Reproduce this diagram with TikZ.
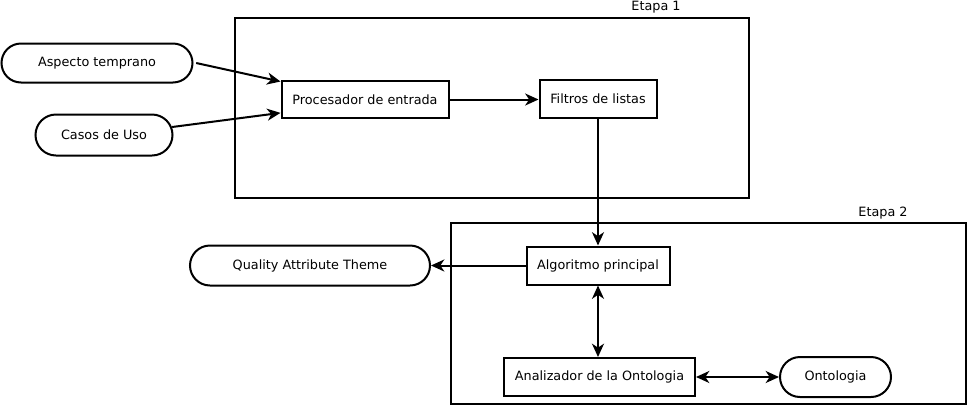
\documentclass[tikz,border=0pt]{standalone}
\usepackage{fontspec}
\setmainfont{DejaVu Sans}
\usetikzlibrary{shapes.misc,arrows.meta}
\tikzset{
  caja/.style={draw, line width=1.5pt, inner sep=0pt, font=\fontsize{9.6}{11}\selectfont},
  terminal/.style={caja, rounded rectangle},
  etapa/.style={draw, line width=1.5pt, inner sep=0pt},
  rotulo/.style={font=\fontsize{9.6}{11}\selectfont},
  flecha/.style={line width=1.5pt, -{Stealth[length=10pt, width=9pt, inset=3pt]}},
  dobleflecha/.style={line width=1.5pt, {Stealth[length=10pt, width=9pt, inset=3pt]}-{Stealth[length=10pt, width=9pt, inset=3pt]}}
}
\begin{document}
\begin{tikzpicture}[x=.75pt, y=-.75pt]
\useasboundingbox (0,0) rectangle (968,408);
\node[etapa, minimum width=385.5pt, minimum height=135pt] (caja1) at (492,108) {};
\node[rotulo] (etapa1) at (656,7) {Etapa 1};
\node[etapa, minimum width=386.25pt, minimum height=135.75pt] (caja2) at (708.5,313.5) {};
\node[rotulo] (etapa2) at (883,213) {Etapa 2};
\node[terminal, minimum width=143.25pt, minimum height=29.25pt] (aspecto) at (97,63) {Aspecto temprano};
\node[terminal, minimum width=102.75pt, minimum height=30.75pt] (casos) at (104,135) {Casos de Uso};
\node[caja, minimum width=125.25pt, minimum height=27.75pt] (procesador) at (365,99.5) {Procesador de entrada};
\node[caja, minimum width=87.75pt, minimum height=28.5pt] (filtros) at (598,98.5) {Filtros de listas};
\node[terminal, minimum width=180pt, minimum height=30pt] (quality) at (310,265.5) {Quality Attribute Theme};
\node[caja, minimum width=107.25pt, minimum height=28.5pt] (algoritmo) at (598,265.5) {Algoritmo principal};
\node[caja, minimum width=143.25pt, minimum height=28.5pt] (analizador) at (599.5,377) {Analizador de la Ontologia};
\node[terminal, minimum width=83.25pt, minimum height=30pt] (ontologia) at (835.5,377) {Ontologia};
\draw[flecha] ([xshift=2pt]aspecto.east) -- (procesador.168);
\draw[flecha] ([xshift=-1pt, yshift=6pt]casos.east) -- (procesador.189);
\draw[flecha] (procesador.east) -- (procesador.east -| filtros.west);
\draw[flecha] (filtros.south) -- (algoritmo.north);
\draw[flecha] (algoritmo.west) -- (quality.east);
\draw[dobleflecha] (algoritmo.south) -- (algoritmo.south |- analizador.north);
\draw[dobleflecha] (analizador.east) -- (ontologia.west);
\end{tikzpicture}
\end{document}
